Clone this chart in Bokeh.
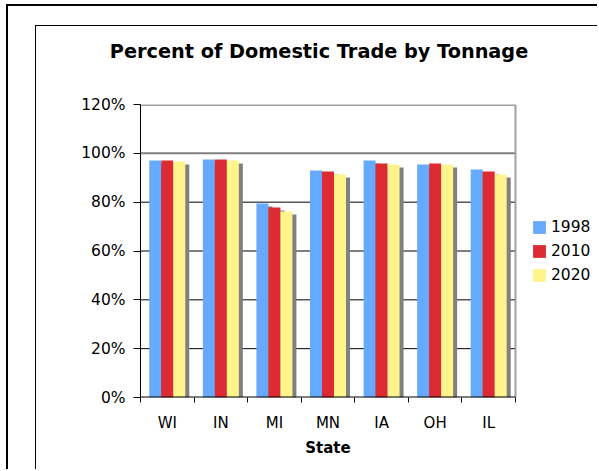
from bokeh.plotting import figure
from bokeh.models import (FixedTicker, PrintfTickFormatter, Legend, LegendItem, LinearAxis)
from bokeh.embed import file_html
from bokeh.resources import INLINE

title_text = "Percent of Domestic Trade by Tonnage"
x_title = "State"
states = ["WI", "IN", "MI", "MN", "IA", "OH", "IL"]
years = ["1998", "2010", "2020"]
v1998 = [97.1, 97.5, 79.5, 93.0, 97.1, 95.4, 93.4]
v2010 = [97.1, 97.5, 77.8, 92.6, 95.8, 95.8, 92.6]
v2020 = [96.7, 97.1, 76.2, 91.3, 95.4, 95.4, 91.3]
y_ticks = [0, 20, 40, 60, 80, 100, 120]
grid_black = [20, 40, 60, 80]

series = [v1998, v2010, v2020]
colors = ["#66aaff", "#dd2b33", "#fff48c"]
shadow_color = "#808080"
FONT = "DejaVu Sans"

W, H = 597, 469
left_px, top_px, bottom_px = 140, 104, 72
n = len(states)
px_x = 375 / n                      # pixels per category
x_end = (W - left_px) / px_x        # plot frame runs on to the right edge (legend lives there)
px_y = (H - top_px - bottom_px) / 120

p = figure(width=W, height=H, x_range=(0, x_end), y_range=(0, 120),
           output_backend="svg", toolbar_location=None,
           min_border_left=left_px, min_border_right=0, min_border_top=top_px,
           min_border_bottom=bottom_px)
p.background_fill_color = "white"
p.border_fill_color = None
p.outline_line_color = None
p.xgrid.grid_line_color = None
p.ygrid.grid_line_color = None

# sheet border and chart-area border (CSS background lines of the host element)
p.styles = {
    "background-color": "white",
    "background-image": ("linear-gradient(#000,#000), linear-gradient(#000,#000), "
                         "linear-gradient(#000,#000), linear-gradient(#000,#000)"),
    "background-repeat": "no-repeat",
    "background-size": "2px 100%, 100% 2px, 1px 100%, 100% 1px",
    "background-position": "6px 4px, 6px 4px, 35px 25px, 35px 25px",
}

xa = p.xaxis[0]
ya = p.yaxis[0]

bar_w = 12 / px_x
sh_dx = 4 / px_x
sh_dy = 3 / px_y

# gridlines inside the plot area
p.segment(x0=[0] * len(grid_black), x1=[n] * len(grid_black), y0=grid_black, y1=grid_black,
          line_color="black", line_width=1)
p.segment(x0=[0], x1=[n], y0=[100], y1=[100], line_color="#808080", line_width=2)

renderers = []
centers = [i + 0.5 for i in range(n)]
for j, vals in enumerate(series):
    xs = [c + (j - 1) * bar_w for c in centers]
    p.vbar(x=[x + sh_dx for x in xs], top=[v - sh_dy for v in vals], bottom=-5,
           width=bar_w, fill_color=shadow_color, line_color=None)
    r = p.vbar(x=xs, top=vals, bottom=0, width=bar_w, fill_color=colors[j], line_color=None)
    renderers.append(r)

# plot-area border: grey top and right, black category axis
p.segment(x0=[0], x1=[n], y0=[120], y1=[120], line_color="#a0a0a0", line_width=3)
p.segment(x0=[n], x1=[n], y0=[0], y1=[120], line_color="#a0a0a0", line_width=2)
p.segment(x0=[0], x1=[n], y0=[0], y1=[0], line_color="black", line_width=2)

# x axis (category labels between boundary ticks)
xa.ticker = FixedTicker(ticks=centers, minor_ticks=list(range(n + 1)))
xa.major_label_overrides = {c: s for c, s in zip(centers, states)}
xa.major_tick_line_color = None
xa.major_tick_out = 0
xa.major_tick_in = 0
xa.minor_tick_line_color = "black"
xa.minor_tick_out = 5
xa.minor_tick_in = 0
xa.axis_line_color = None
xa.major_label_text_font = FONT
xa.major_label_text_font_size = "15px"
xa.major_label_text_color = "black"
xa.major_label_standoff = 11

# x axis title, centred under the categories
c_mid = n / 2
xt = LinearAxis(ticker=FixedTicker(ticks=[c_mid], minor_ticks=[]),
                major_label_overrides={c_mid: x_title}, axis_line_color=None,
                major_tick_line_color=None, minor_tick_line_color=None,
                major_tick_out=0, major_tick_in=0, minor_tick_out=0, minor_tick_in=0,
                major_label_standoff=4, major_label_text_font=FONT,
                major_label_text_font_style="bold", major_label_text_font_size="15px",
                major_label_text_color="black")
p.add_layout(xt, "below")

# chart title above the plot area
t_mid = (318.5 - left_px) / px_x
tt = LinearAxis(ticker=FixedTicker(ticks=[t_mid], minor_ticks=[]),
                major_label_overrides={t_mid: title_text}, axis_line_color=None,
                major_tick_line_color=None, minor_tick_line_color=None,
                major_tick_out=0, major_tick_in=0, minor_tick_out=0, minor_tick_in=0,
                major_label_standoff=42, major_label_text_font=FONT,
                major_label_text_font_style="bold", major_label_text_font_size="19.3px",
                major_label_text_color="black")
p.add_layout(tt, "above")

# y axis
ya.ticker = FixedTicker(ticks=y_ticks, minor_ticks=[])
ya.formatter = PrintfTickFormatter(format="%d%%")
ya.major_tick_out = 7
ya.major_tick_in = 0
ya.major_tick_line_color = "black"
ya.minor_tick_line_color = None
ya.axis_line_color = "black"
ya.major_label_text_font = FONT
ya.major_label_text_font_size = "15.5px"
ya.major_label_text_color = "black"
ya.major_label_standoff = 8

legend = Legend(items=[LegendItem(label=y, renderers=[r]) for y, r in zip(years, renderers)],
                location=(391, 113), orientation="vertical",
                glyph_width=16, glyph_height=16, label_height=16, label_width=30,
                spacing=6, padding=0, margin=0, label_standoff=4,
                border_line_color=None, background_fill_alpha=0,
                label_text_font=FONT, label_text_font_size="15.5px", label_text_color="black")
p.add_layout(legend)

open("out.html", "w").write(file_html(p, INLINE))
